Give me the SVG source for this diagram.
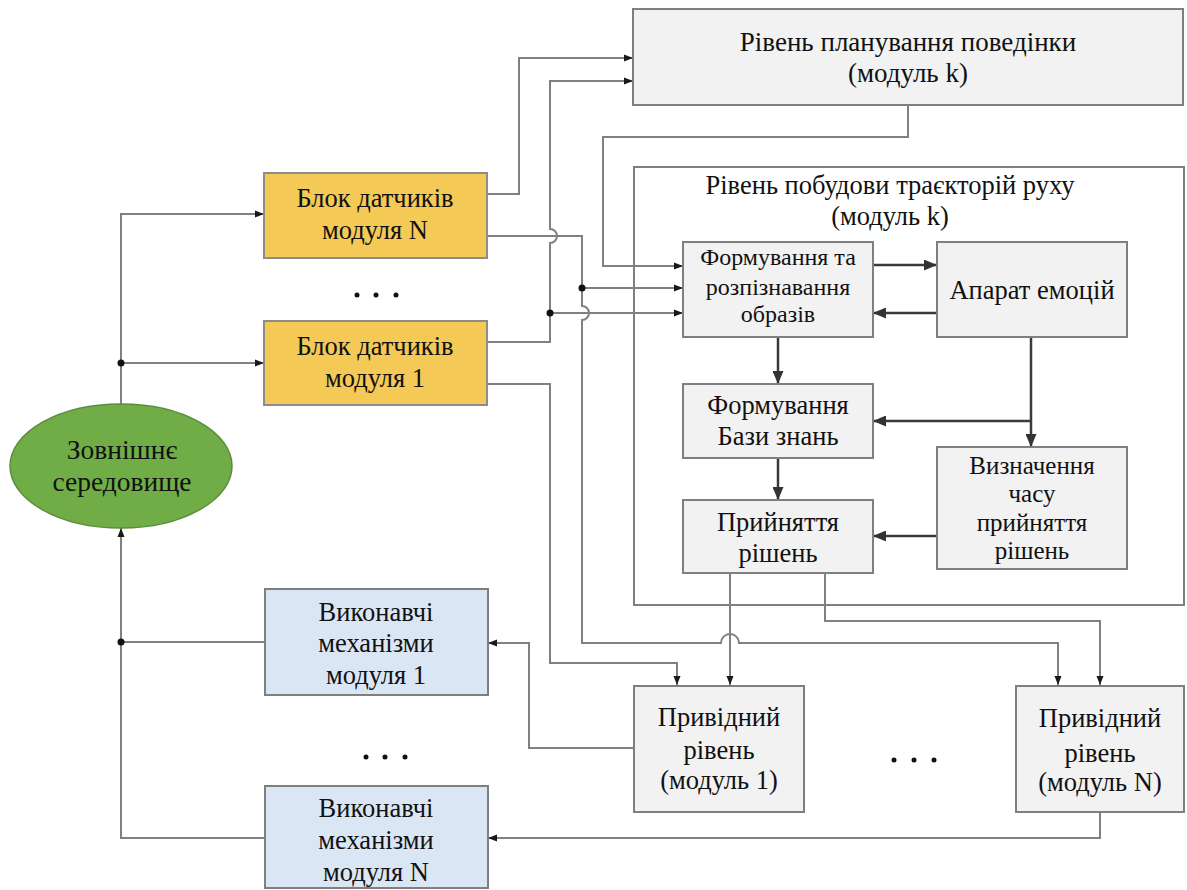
<svg xmlns="http://www.w3.org/2000/svg" width="1187" height="890" viewBox="0 0 1187 890" font-family="'Liberation Serif', 'DejaVu Serif', serif">
<defs>
<marker id="a" markerWidth="9" markerHeight="8" refX="9" refY="4" orient="auto" markerUnits="userSpaceOnUse"><path d="M0,0.5 L9,4 L0,7.5 z" fill="#1a1a1a"/></marker>
<marker id="b" markerWidth="13" markerHeight="11" refX="13" refY="5.5" orient="auto" markerUnits="userSpaceOnUse"><path d="M0,0 L13,5.5 L0,11 z" fill="#333"/></marker>
</defs>
<style>
.t{font-family:'Liberation Serif','DejaVu Serif',serif;font-size:26.5px;fill:#111;text-anchor:middle}
.s{font-size:24px}
.m{font-size:25px}
.c{fill:none;stroke:#808080;stroke-width:2}
.k{fill:none;stroke:#3a3a3a;stroke-width:2.5}
.g{fill:#f2f2f2;stroke:#7f7f7f;stroke-width:2}
.y{fill:#f5c955;stroke:#8c8c8c;stroke-width:2}
.bl{fill:#dbe6f5;stroke:#7f7f7f;stroke-width:2}
.d{fill:#111}
</style>
<rect width="1187" height="890" fill="#fff"/>

<g id="traj">
<rect x="634" y="167" width="550" height="438" fill="#fff" stroke="#7f7f7f" stroke-width="2"/>
<text class="t" x="890" y="194">Рівень побудови траєкторій руху</text>
<text class="t" x="890" y="225">(модуль k)</text>
</g>

<g id="connectors">
<path class="c" d="M487,194 H519 V58 H633" marker-end="url(#a)"/>
<path class="c" d="M487,342 H550 V243 A7 7 0 0 0 550 229 V81 H633" marker-end="url(#a)"/>
<path class="c" d="M550,313 H683" marker-end="url(#a)"/>
<path class="c" d="M487,236 H582 V306 A7 7 0 0 1 582 320 V643 H721 A9 9 0 0 1 739 643 H1058 V685" marker-end="url(#a)"/>
<path class="c" d="M582,288 H683" marker-end="url(#a)"/>
<path class="c" d="M908,105 V137 H603 V266 H683" marker-end="url(#a)"/>
<path class="c" d="M487,384 H550 V663 H677 V685" marker-end="url(#a)"/>
<path class="c" d="M730,573 V685" marker-end="url(#a)"/>
<path class="c" d="M825,573 V621 H1100 V685" marker-end="url(#a)"/>
<path class="c" d="M634,748 H529 V643 H488" marker-end="url(#a)"/>
<path class="c" d="M1100,812 V838 H488" marker-end="url(#a)"/>
<path class="c" d="M265,642 H121"/>
<path class="c" d="M265,838 H121 V528" marker-end="url(#a)"/>
<path class="c" d="M121,404 V214 H264" marker-end="url(#a)"/>
<path class="c" d="M121,363 H264" marker-end="url(#a)"/>
<circle class="d" cx="550" cy="313" r="3.5"/>
<circle class="d" cx="582" cy="288" r="3.5"/>
<circle class="d" cx="121" cy="363" r="3.5"/>
<circle class="d" cx="121" cy="642" r="3.5"/>
<path class="k" d="M873,265 H937" marker-end="url(#b)"/>
<path class="k" d="M937,313 H873" marker-end="url(#b)"/>
<path class="k" d="M778,337 V384" marker-end="url(#b)"/>
<path class="k" d="M1031,337 V447" marker-end="url(#b)"/>
<path class="k" d="M1031,421 H873" marker-end="url(#b)"/>
<path class="k" d="M778,458 V500" marker-end="url(#b)"/>
<path class="k" d="M937,536 H873" marker-end="url(#b)"/>
</g>

<g id="env">
<ellipse cx="121" cy="466" rx="111" ry="62" fill="#70ad47" stroke="#5b8c3c" stroke-width="1.5"/>
<text class="t" x="122" y="459" style="font-size:27.5px">Зовнішнє</text>
<text class="t" x="122" y="491" style="font-size:27.5px">середовище</text>
</g>

<g id="sensN">
<rect class="y" x="264" y="173" width="223" height="85"/>
<text class="t" x="375" y="207">Блок датчиків</text>
<text class="t" x="375" y="239">модуля N</text>
</g>
<g id="dots1">
<circle class="d" cx="357" cy="295" r="2.5"/><circle class="d" cx="376" cy="295" r="2.5"/><circle class="d" cx="396" cy="295" r="2.5"/>
</g>
<g id="sens1">
<rect class="y" x="264" y="321" width="223" height="84"/>
<text class="t" x="375" y="355">Блок датчиків</text>
<text class="t" x="375" y="387">модуля 1</text>
</g>

<g id="plan">
<rect class="g" x="633" y="9" width="550" height="96"/>
<text class="t" x="908" y="51" style="font-size:27px">Рівень планування поведінки</text>
<text class="t" x="908" y="82" style="font-size:27px">(модуль k)</text>
</g>

<g id="form">
<rect class="g" x="683" y="242" width="190" height="95"/>
<text class="t s" x="778" y="265">Формування та</text>
<text class="t s" x="778" y="295">розпізнавання</text>
<text class="t s" x="778" y="322">образів</text>
</g>
<g id="emo">
<rect class="g" x="937" y="242" width="190" height="95"/>
<text class="t" x="1032" y="299">Апарат емоцій</text>
</g>
<g id="kb">
<rect class="g" x="683" y="384" width="190" height="74"/>
<text class="t" x="778" y="414">Формування</text>
<text class="t" x="778" y="445">Бази знань</text>
</g>
<g id="dec">
<rect class="g" x="683" y="500" width="190" height="73"/>
<text class="t" x="778" y="531">Прийняття</text>
<text class="t" x="778" y="562">рішень</text>
</g>
<g id="time">
<rect class="g" x="937" y="447" width="190" height="122"/>
<text class="t m" x="1032" y="474">Визначення</text>
<text class="t m" x="1032" y="502">часу</text>
<text class="t m" x="1032" y="531">прийняття</text>
<text class="t m" x="1032" y="559">рішень</text>
</g>

<g id="act1">
<rect class="bl" x="265" y="589" width="223" height="106"/>
<text class="t" x="376" y="621">Виконавчі</text>
<text class="t" x="376" y="652">механізми</text>
<text class="t" x="376" y="684">модуля 1</text>
</g>
<g id="dots2">
<circle class="d" cx="366" cy="757" r="2.5"/><circle class="d" cx="385" cy="757" r="2.5"/><circle class="d" cx="405" cy="757" r="2.5"/>
</g>
<g id="actN">
<rect class="bl" x="265" y="786" width="223" height="102"/>
<text class="t" x="376" y="817">Виконавчі</text>
<text class="t" x="376" y="849">механізми</text>
<text class="t" x="376" y="881">модуля N</text>
</g>

<g id="drv1">
<rect class="g" x="634" y="686" width="170" height="126"/>
<text class="t" x="719" y="726">Привідний</text>
<text class="t" x="719" y="759">рівень</text>
<text class="t" x="719" y="789">(модуль 1)</text>
</g>
<g id="dots3">
<circle class="d" cx="894" cy="760" r="2.5"/><circle class="d" cx="914" cy="760" r="2.5"/><circle class="d" cx="934" cy="760" r="2.5"/>
</g>
<g id="drvN">
<rect class="g" x="1016" y="686" width="168" height="126"/>
<text class="t" x="1100" y="727">Привідний</text>
<text class="t" x="1100" y="762">рівень</text>
<text class="t" x="1100" y="791">(модуль N)</text>
</g>
</svg>
